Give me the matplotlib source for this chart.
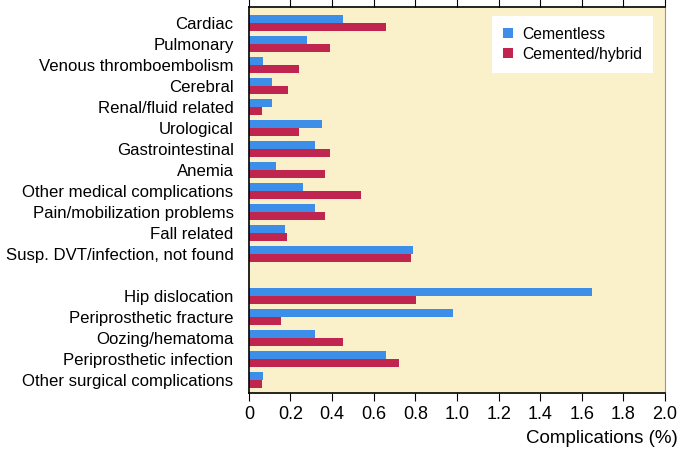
import numpy as np
import matplotlib
matplotlib.use("Agg")
from matplotlib import pyplot as plt

medical = ["Cardiac", "Pulmonary", "Venous thromboembolism", "Cerebral",
           "Renal/fluid related", "Urological", "Gastrointestinal", "Anemia",
           "Other medical complications", "Pain/mobilization problems",
           "Fall related", "Susp. DVT/infection, not found"]
surgical = ["Hip dislocation", "Periprosthetic fracture", "Oozing/hematoma",
            "Periprosthetic infection", "Other surgical complications"]

cementless_med = [0.45, 0.28, 0.07, 0.11, 0.11, 0.35, 0.32, 0.13, 0.26, 0.32, 0.175, 0.79]
cemented_med = [0.66, 0.39, 0.24, 0.19, 0.065, 0.24, 0.39, 0.365, 0.54, 0.365, 0.185, 0.78]
cementless_sur = [1.65, 0.98, 0.32, 0.66, 0.07]
cemented_sur = [0.805, 0.155, 0.45, 0.72, 0.065]

labels = medical + surgical
cementless = cementless_med + cementless_sur
cemented = cemented_med + cemented_sur

plt.rcParams["font.family"] = ["Liberation Sans", "DejaVu Sans"]

# one empty slot between the medical and the surgical groups
pos = np.array(list(range(len(medical))) + [len(medical) + 1 + i for i in range(len(surgical))])

fig = plt.figure(figsize=(6.8, 4.49), dpi=100)
ax = fig.add_axes([0.366, 0.1247, 0.612, 0.8597])
ax.set_facecolor("#faf0c9")

h = 0.4
ax.barh(pos - h / 2, cementless, height=h, color="#3c8ee9", label="Cementless")
ax.barh(pos + h / 2, cemented, height=h, color="#c0254f", label="Cemented/hybrid")

ax.set_yticks(pos)
ax.set_yticklabels(labels, fontsize=12.1)
ax.tick_params(axis="y", length=0, pad=11)
ax.set_ylim(pos[-1] + 0.62, -0.76)

ax.set_xlim(0, 2.0)
ax.set_xticks(np.arange(0, 2.01, 0.2))
ax.set_xticklabels(["0"] + [f"{v:.1f}" for v in np.arange(0.2, 2.01, 0.2)], fontsize=13)
ax.tick_params(axis="x", direction="out", length=6, top=True, pad=3)
ax.set_xlabel("Complications (%)", fontsize=13.5)
ax.xaxis.set_label_coords(1.03, -0.095, transform=ax.transAxes)
ax.xaxis.label.set_horizontalalignment("right")

for side in ("left", "bottom", "top"):
    ax.spines[side].set_color("black")
    ax.spines[side].set_linewidth(1.2)
ax.spines["right"].set_color("#999999")

leg = ax.legend(loc="upper right", bbox_to_anchor=(0.99, 0.997), fontsize=11.3,
                frameon=True, fancybox=False, handlelength=0.6, handleheight=0.6,
                handletextpad=0.6, borderpad=0.7, labelspacing=0.3)
leg.get_frame().set_edgecolor("none")
leg.get_frame().set_facecolor("white")
leg.get_frame().set_alpha(1)

fig.savefig("out.png", dpi=100)
